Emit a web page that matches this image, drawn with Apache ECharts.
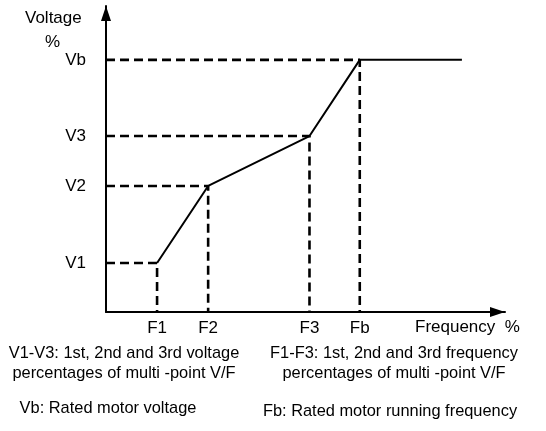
<!DOCTYPE html>
<html>
<head>
<meta charset="utf-8">
<script src="https://cdn.jsdelivr.net/npm/echarts@6/dist/echarts.min.js"></script>
<style>
  html, body { margin: 0; padding: 0; background: #fff; }
  #chart { width: 546px; height: 431px; }
</style>
</head>
<body>
<div id="chart"></div>
<script>
// Multi-point V/F curve: break points in percent of axis span
const freqNames = ['F1', 'F2', 'F3', 'Fb'];
const freqValues = [12.8, 25.6, 51.0, 63.6];
const voltNames = ['V1', 'V2', 'V3', 'Vb'];
const voltValues = [16.0, 41.2, 57.5, 82.4];
const freqEnd = 89.2;   // flat section continues past Fb at Vb

const notes = [
  'V1-V3: 1st, 2nd and 3rd voltage\npercentages of multi -point V/F',
  'F1-F3: 1st, 2nd and 3rd frequency\npercentages of multi -point V/F',
  'Vb: Rated motor voltage',
  'Fb: Rated motor running frequency'
];

const FONT = 'Liberation Sans, Arial, sans-serif';
const LABEL_FONT = '17px ' + FONT;
const NOTE_FONT = '16.4px ' + FONT;

const curve = freqValues.map((f, i) => [f, voltValues[i]]);
curve.push([freqEnd, voltValues[voltValues.length - 1]]);

const guideSeries = freqValues.map((f, i) => ({
  type: 'line',
  data: [[0, voltValues[i]], [f, voltValues[i]], [f, 0]],
  symbol: 'none',
  silent: true,
  lineStyle: { color: '#000', width: 2.6, type: [9, 5] },
  z: 2
}));

// Axis lines end in a solid triangular arrowhead whose tip sits at the axis end
const axisLineStyle = {
  show: true,
  lineStyle: { color: '#000', width: 2 },
  symbol: ['none', 'triangle'],
  symbolSize: [10, 15],
  symbolOffset: [0, -7.5]
};

const chart = echarts.init(document.getElementById('chart'), null, { renderer: 'canvas' });
chart.setOption({
  animation: false,
  backgroundColor: '#fff',
  grid: { left: 106, right: 41, top: 6, bottom: 119 },
  xAxis: {
    type: 'value', min: 0, max: 100,
    splitLine: { show: false },
    axisLine: axisLineStyle,
    axisTick: { show: false },
    axisLabel: {
      customValues: freqValues,
      formatter: v => freqNames[freqValues.indexOf(v)] || '',
      color: '#000', fontSize: 17, fontFamily: FONT, margin: 8
    }
  },
  yAxis: {
    type: 'value', min: 0, max: 100,
    splitLine: { show: false },
    axisLine: axisLineStyle,
    axisTick: { show: false },
    axisLabel: {
      customValues: voltValues,
      formatter: v => voltNames[voltValues.indexOf(v)] || '',
      color: '#000', fontSize: 17, fontFamily: FONT, margin: 20
    }
  },
  graphic: [
    { type: 'text', left: 25, top: 10, style: { text: 'Voltage', font: LABEL_FONT, fill: '#000' } },
    { type: 'text', left: 45, top: 34, style: { text: '%', font: LABEL_FONT, fill: '#000' } },
    { type: 'text', left: 415, top: 319, style: { text: 'Frequency  %', font: LABEL_FONT, fill: '#000' } },
    { type: 'text', x: 124, y: 343, style: { text: notes[0], font: NOTE_FONT, fill: '#000', align: 'center', lineHeight: 20 } },
    { type: 'text', x: 394, y: 343, style: { text: notes[1], font: NOTE_FONT, fill: '#000', align: 'center', lineHeight: 20 } },
    { type: 'text', x: 108, y: 400, style: { text: notes[2], font: NOTE_FONT, fill: '#000', align: 'center' } },
    { type: 'text', x: 390, y: 403, style: { text: notes[3], font: NOTE_FONT, fill: '#000', align: 'center' } }
  ],
  series: guideSeries.concat([{
    type: 'line',
    data: curve,
    symbol: 'none',
    silent: true,
    lineStyle: { color: '#000', width: 2 },
    z: 3
  }])
});
</script>
</body>
</html>
